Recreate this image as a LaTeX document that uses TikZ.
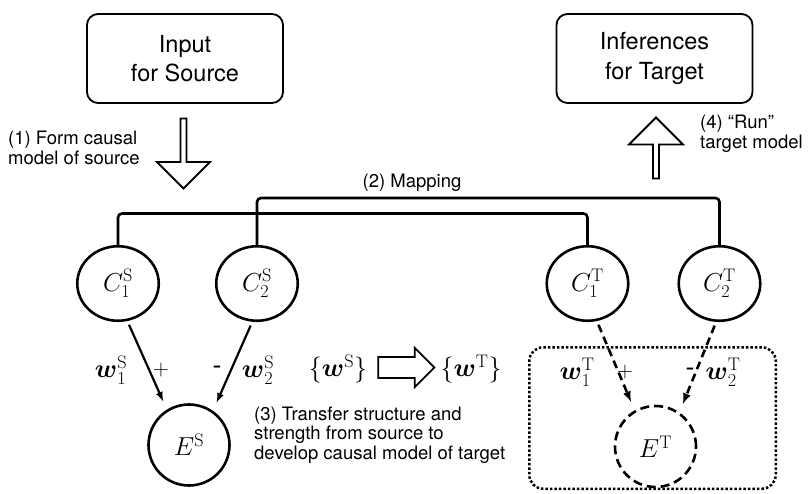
\RequirePackage{fix-cm}
\documentclass[tikz,border=0pt]{standalone}
\usepackage{amsmath}
\usepackage[no-math]{fontspec}
\setmainfont{TeX Gyre Heros}
\usetikzlibrary{positioning, arrows, shapes.geometric, shapes.arrows}

\begin{document}
\begin{tikzpicture}[x=1pt, y=-1pt,
        box/.style={draw, rectangle, rounded corners=11pt, line width=1.8pt, minimum width=196pt, minimum height=89pt, align=center, font=\fontsize{23.5}{29.5}\selectfont},
        cause/.style={draw, ellipse, line width=2.6pt, minimum width=81.5pt, minimum height=74.5pt, inner sep=0pt, font=\fontsize{26}{30}\selectfont},
        effect/.style={draw, circle, line width=2.6pt, minimum size=81pt, inner sep=0pt, font=\fontsize{26}{30}\selectfont},
        lbl/.style={align=left, inner sep=0pt, font=\fontsize{18.5}{19.5}\selectfont},
        wlbl/.style={inner sep=0pt, font=\fontsize{26}{30}\selectfont},
        sign/.style={inner sep=0pt, font=\fontsize{22}{24}\selectfont},
        minus/.style={inner sep=0pt, font=\fontsize{27}{30}\selectfont},
        bigarrow/.style={draw, single arrow, line width=1.8pt, inner xsep=0pt},
        link/.style={->, line width=2.2pt, shorten <=4pt, shorten >=9pt},
        tlink/.style={link, line width=2.6pt, dash pattern=on 8pt off 5pt},
        maplink/.style={line width=2.6pt, rounded corners=4pt},
        >=latex]
        \useasboundingbox (0,0) rectangle (809,493);

        % Eingabe und Ausgabe
        \node[box] (input) at (185,58.5) {Input\\for Source};
        \node[box] (infer) at (654.5,58.5) {Inferences\\for Target};

        % Kausalmodell der Quelle
        \node[cause] (c1s) at (118,283.5) {$C^{\mathrm{S}}_1$};
        \node[cause] (c2s) at (257,283.5) {$C^{\mathrm{S}}_2$};
        \node[effect] (es) at (189,445) {$E^{\mathrm{S}}$};

        % Kausalmodell des Ziels
        \node[draw, line width=2.5pt, dash pattern=on 2.5pt off 2pt, rounded corners=14pt, minimum width=246.5pt, minimum height=141.5pt] (tmodel) at (652.5,418) {};
        \node[cause] (c1t) at (587.5,283.5) {$C^{\mathrm{T}}_1$};
        \node[cause] (c2t) at (719.5,283.5) {$C^{\mathrm{T}}_2$};
        \node[effect, dash pattern=on 9pt off 5pt] (et) at (655.5,446.5) {$E^{\mathrm{T}}$};

        % Blockpfeile
        \node[bigarrow, shape border rotate=270, inner ysep=11pt, minimum height=70pt, minimum width=53pt] (step1) at (183.5,152) {};
        \node[bigarrow, shape border rotate=90, inner ysep=8pt, minimum height=61pt, minimum width=54pt] (step4) at (656,149.5) {};
        \node[bigarrow, inner ysep=7.5pt, minimum height=56pt, minimum width=39pt] (step3) at (401,367.5) {};

        % Texte
        \node[lbl, anchor=west] (lab1) at (8,148) {(1) Form causal\\model of source};
        \node[lbl] (lab2) at (412,183) {(2) Mapping};
        \node[lbl, anchor=west] (lab3) at (254,435) {(3) Transfer structure and\\strength from source to\\develop causal model of target};
        \node[lbl, anchor=west] (lab4) at (700,134) {(4) ``Run''\\target model};

        \node[wlbl] (wss) at (338,369) {$\{\boldsymbol{w}^{\mathrm{S}}\}$};
        \node[wlbl] (wts) at (471,369) {$\{\boldsymbol{w}^{\mathrm{T}}\}$};

        % Gewichte
        \node[wlbl] (w1s) at (111,370) {$\boldsymbol{w}^{\mathrm{S}}_1$};
        \node[sign] (p1s) at (161,370) {$+$};
        \node[minus] (m2s) at (217,370) {-};
        \node[wlbl] (w2s) at (258,370) {$\boldsymbol{w}^{\mathrm{S}}_2$};
        \node[wlbl] (w1t) at (577,372) {$\boldsymbol{w}^{\mathrm{T}}_1$};
        \node[sign] (p1t) at (625,372) {$+$};
        \node[minus] (m2t) at (690,372) {-};
        \node[wlbl] (w2t) at (723,372) {$\boldsymbol{w}^{\mathrm{T}}_2$};

        % Verbindungen
        \draw[link] (c1s.-76) -- (es.122);
        \draw[link] (c2s.-97) -- (es.55);
        \draw[tlink] (c1t.-76) -- (et.120);
        \draw[tlink] (c2t.-95) -- (et.55);

        % Abbildung
        \coordinate (maplow) at (0,213.5);
        \coordinate (maphigh) at (0,198);
        \draw[maplink] (c1s.north) |- (c1t.north |- maplow) -- (c1t.north);
        \draw[maplink] (c2s.north) |- (c2t.north |- maphigh) -- (c2t.north);
\end{tikzpicture}
\end{document}
